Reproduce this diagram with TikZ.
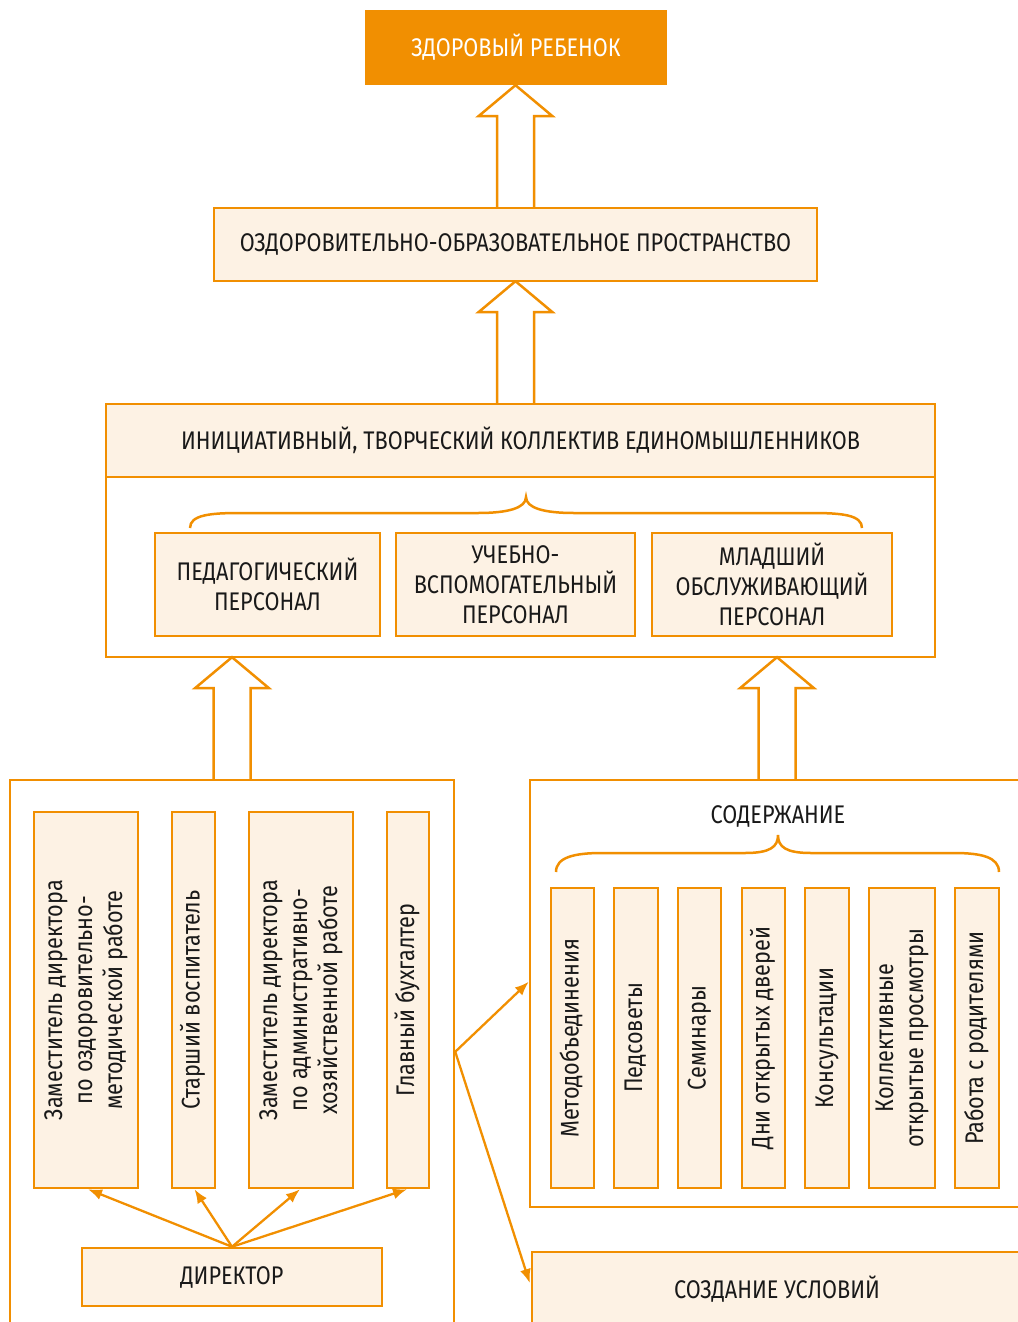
\documentclass[tikz,border=0pt]{standalone}
\usepackage{fontspec}
\setmainfont{Fira Sans}[FakeStretch=0.85]
\usetikzlibrary{calc,arrows.meta}
\definecolor{orng}{RGB}{241,143,1}
\definecolor{cream}{RGB}{253,242,228}
\definecolor{ink}{RGB}{25,25,25}
\newcommand\upblock[2]{\draw[blk] let \p1=(#1), \p2=(#2) in
  (\x1-18.5pt,\y1) -- (\x1-18.5pt,\y2-31pt) -- (\x1-37pt,\y2-31pt) -- (\x1,\y2)
  -- (\x1+37pt,\y2-31pt) -- (\x1+18.5pt,\y2-31pt) -- (\x1+18.5pt,\y1);}
\newcommand\vtext[1]{\rotatebox{90}{\begin{tabular}{@{}c@{}}#1\end{tabular}}}
\begin{document}
\begin{tikzpicture}[x=1pt,y=-1pt,
  every node/.style={font=\fontsize{25.5}{30}\selectfont, text=ink, inner sep=0pt, align=center},
  wh/.style 2 args={minimum width=#1pt, minimum height=#2pt},
  box/.style={draw=orng, fill=cream, line width=2.5pt},
  plain/.style={draw=orng, line width=2.5pt},
  tbox/.style={fill=orng, text=white},
  blk/.style={draw=orng, fill=white, line width=2.5pt, line join=miter},
  arr/.style={draw=orng, line width=2.3pt, -{Latex[length=14pt,width=11pt]}},
  brace/.style={draw=orng, line width=2.5pt}
]
\useasboundingbox (0,0) rectangle (1017,1322);
% coordinates of nodes (declared first for arrows)
\node[tbox, wh={302}{75}] (t1) at (516,47.5) {ЗДОРОВЫЙ РЕБЕНОК};
\path (515.5,244.5) node[wh={603}{73}] (t2) {};
\path (520.5,530.5) node[wh={829}{253}] (t3) {};
\path (232,1060) node[wh={444}{560}] (L) {};
\path (777,993.5) node[wh={494}{427}] (R) {};
% block arrows
\upblock{t2.north}{t1.south}
\upblock{t2.south |- t3.north}{t2.south}
\upblock{L.north}{L.north |- t3.south}
\upblock{R.north}{R.north |- t3.south}
% boxes
\node[box, wh={603}{73}] (t2b) at (t2) {ОЗДОРОВИТЕЛЬНО-ОБРАЗОВАТЕЛЬНОЕ ПРОСТРАНСТВО};
\node[plain, wh={829}{253}] (t3b) at (t3) {};
\node[box, wh={829}{73}, anchor=north] (band) at (t3b.north) {ИНИЦИАТИВНЫЙ, ТВОРЧЕСКИЙ КОЛЛЕКТИВ ЕДИНОМЫШЛЕННИКОВ};
\draw[brace] (190,528) .. controls (190,515) and (210,513) .. (240,513) -- (478,513)
  .. controls (508,513) and (526,508) .. (526,497)
  .. controls (526,508) and (544,513) .. (574,513) -- (812,513)
  .. controls (842,513) and (862,515) .. (862,528);
\node[box, wh={225}{103}] (p1) at (267.5,584.5) {ПЕДАГОГИЧЕСКИЙ\\ПЕРСОНАЛ};
\node[box, wh={239}{103}] (p2) at (515.5,584.5) {УЧЕБНО-\\ВСПОМОГАТЕЛЬНЫЙ\\ПЕРСОНАЛ};
\node[box, wh={240}{103}] (p3) at (772,584.5) {МЛАДШИЙ\\ОБСЛУЖИВАЮЩИЙ\\ПЕРСОНАЛ};
% left block
\node[plain, wh={444}{560}] (Lb) at (L) {};
\node[box, wh={104}{376}] (v1) at (86,1000) {\vtext{Заместитель директора\\по оздоровительно-\\методической работе}};
\node[box, wh={43}{376}] (v2) at (193.5,1000) {\vtext{Старший воспитатель}};
\node[box, wh={104}{376}] (v3) at (301,1000) {\vtext{Заместитель директора\\по административно-\\хозяйственной работе}};
\node[box, wh={42}{376}] (v4) at (408,1000) {\vtext{Главный бухгалтер}};
\node[box, wh={300}{58}] (dir) at (232,1277) {ДИРЕКТОР};
\draw[arr] (dir.north) -- ($(v1.south)+(2,0)$);
\draw[arr] (dir.north) -- ($(v2.south)+(1,0)$);
\draw[arr] (dir.north) -- ($(v3.south)+(-1,0)$);
\draw[arr] (dir.north) -- ($(v4.south)+(-1,0)$);
% right block
\node[plain, wh={494}{427}] (Rb) at (R) {};
\node (sod) at (778,816) {СОДЕРЖАНИЕ};
\draw[brace] (556,872) .. controls (556,857) and (575,853) .. (602,853) -- (745,853)
  .. controls (770,853) and (778,847) .. (778,835)
  .. controls (778,847) and (786,853) .. (811,853) -- (954,853)
  .. controls (981,853) and (999,857) .. (999,872);
\node[box, wh={43}{300}] (r1) at (572.5,1038) {\vtext{Методобъединения}};
\node[box, wh={44}{300}] (r2) at (636,1038) {\vtext{Педсоветы}};
\node[box, wh={43}{300}] (r3) at (699.5,1038) {\vtext{Семинары}};
\node[box, wh={43}{300}] (r4) at (763.5,1038) {\vtext{Дни открытых дверей}};
\node[box, wh={44}{300}] (r5) at (827,1038) {\vtext{Консультации}};
\node[box, wh={66}{300}] (r6) at (902,1038) {\vtext{Коллективные\\открытые просмотры}};
\node[box, wh={44}{300}] (r7) at (977,1038) {\vtext{Работа с родителями}};
\node[box, wh={490}{74}] (S) at (777,1289) {СОЗДАНИЕ УСЛОВИЙ};
\coordinate (ls) at ($(Lb.north east)+(0,273)$);
\draw[arr] (ls) -- ($(Rb.north west)+(0,203)$);
\draw[arr] (ls) -- ($(S.west)+(-1,-6)$);
\end{tikzpicture}
\end{document}
